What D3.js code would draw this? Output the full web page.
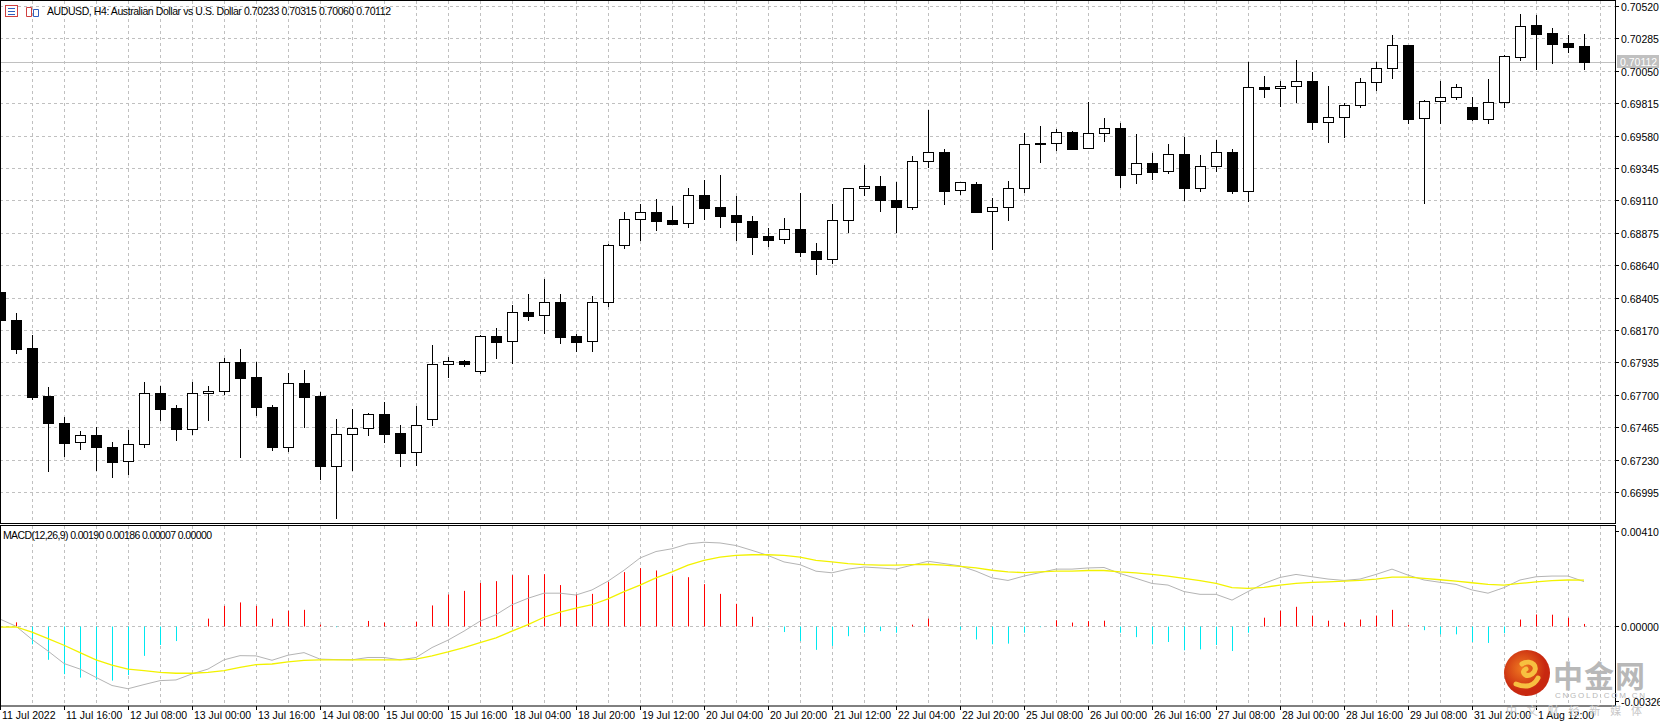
<!DOCTYPE html>
<html><head><meta charset="utf-8">
<script src="https://cdn.jsdelivr.net/npm/d3@7"></script>
<style>body{margin:0;background:#fff}svg{display:block}</style>
</head><body>
<svg id="c" width="1660" height="727"></svg>
<script>
const opens=[0.68446,0.68244,0.68040,0.67692,0.67497,0.67357,0.67408,0.67323,0.67219,0.67342,0.67712,0.67605,0.67455,0.67712,0.67724,0.67939,0.67830,0.67613,0.67325,0.67785,0.67692,0.67187,0.67415,0.67458,0.67562,0.67424,0.67284,0.67526,0.67922,0.67946,0.67872,0.68127,0.68089,0.68299,0.68277,0.68372,0.68127,0.68093,0.68370,0.68789,0.68974,0.69026,0.68969,0.68945,0.69150,0.69063,0.69005,0.68961,0.68853,0.68829,0.68901,0.68744,0.68688,0.68966,0.69198,0.69213,0.69114,0.69065,0.69394,0.69461,0.69184,0.69229,0.69032,0.69061,0.69198,0.69527,0.69524,0.69604,0.69488,0.69597,0.69633,0.69300,0.69380,0.69322,0.69447,0.69203,0.69358,0.69459,0.69181,0.69931,0.69923,0.69938,0.69976,0.69681,0.69713,0.69800,0.69969,0.70068,0.70237,0.69706,0.69829,0.69858,0.69786,0.69699,0.69822,0.70152,0.70382,0.70324,0.70254,0.70233];
const highs=[0.68533,0.68296,0.68135,0.67760,0.67542,0.67439,0.67463,0.67359,0.67446,0.67794,0.67767,0.67627,0.67794,0.67765,0.67970,0.68033,0.67939,0.67627,0.67857,0.67881,0.67721,0.67526,0.67598,0.67571,0.67649,0.67480,0.67622,0.68062,0.67977,0.67953,0.68135,0.68183,0.68352,0.68432,0.68541,0.68432,0.68142,0.68417,0.68792,0.69026,0.69084,0.69119,0.69072,0.69200,0.69258,0.69295,0.69142,0.68997,0.68908,0.68983,0.69166,0.68800,0.69084,0.69198,0.69367,0.69287,0.69246,0.69432,0.69766,0.69483,0.69244,0.69244,0.69126,0.69251,0.69597,0.69650,0.69626,0.69614,0.69824,0.69708,0.69674,0.69592,0.69456,0.69520,0.69570,0.69440,0.69548,0.69483,0.70116,0.70012,0.69976,0.70128,0.70044,0.69940,0.69819,0.69996,0.70114,0.70310,0.70237,0.69838,0.69976,0.69954,0.69862,0.69991,0.70163,0.70462,0.70455,0.70363,0.70310,0.70315];
const lows=[0.68229,0.68006,0.67671,0.67144,0.67257,0.67308,0.67151,0.67107,0.67127,0.67318,0.67518,0.67373,0.67417,0.67518,0.67705,0.67250,0.67550,0.67301,0.67289,0.67470,0.67091,0.66808,0.67151,0.67405,0.67361,0.67187,0.67192,0.67482,0.67832,0.67912,0.67857,0.67970,0.67930,0.68243,0.68147,0.68075,0.68019,0.68021,0.68347,0.68768,0.68823,0.68896,0.68940,0.68920,0.68976,0.68920,0.68823,0.68724,0.68780,0.68804,0.68707,0.68577,0.68655,0.68884,0.69150,0.69036,0.68884,0.69050,0.69355,0.69084,0.69157,0.69029,0.68758,0.68968,0.69174,0.69391,0.69476,0.69481,0.69488,0.69543,0.69210,0.69239,0.69268,0.69312,0.69113,0.69181,0.69326,0.69162,0.69108,0.69862,0.69795,0.69826,0.69630,0.69536,0.69572,0.69790,0.69911,0.70000,0.69674,0.69094,0.69674,0.69844,0.69694,0.69674,0.69790,0.70128,0.70063,0.70109,0.70189,0.70060];
const closes=[0.68243,0.68035,0.67687,0.67492,0.67354,0.67408,0.67318,0.67216,0.67344,0.67712,0.67600,0.67455,0.67712,0.67727,0.67937,0.67825,0.67608,0.67325,0.67785,0.67687,0.67187,0.67415,0.67458,0.67562,0.67419,0.67281,0.67480,0.67924,0.67946,0.67922,0.68127,0.68086,0.68299,0.68275,0.68372,0.68122,0.68086,0.68372,0.68785,0.68974,0.69024,0.68963,0.68942,0.69148,0.69058,0.69000,0.68956,0.68847,0.68826,0.68901,0.68739,0.68688,0.68966,0.69198,0.69213,0.69116,0.69065,0.69396,0.69461,0.69181,0.69244,0.69029,0.69061,0.69198,0.69517,0.69517,0.69604,0.69485,0.69597,0.69633,0.69297,0.69380,0.69319,0.69447,0.69203,0.69360,0.69459,0.69181,0.69931,0.69920,0.69940,0.69976,0.69681,0.69715,0.69800,0.69969,0.70068,0.70237,0.69703,0.69831,0.69860,0.69931,0.69699,0.69822,0.70155,0.70375,0.70319,0.70247,0.70225,0.70112];
const macdMain=[0.00028,-0.00003,-0.0006,-0.0011,-0.00164,-0.00188,-0.00224,-0.00259,-0.00273,-0.00255,-0.00238,-0.00235,-0.00209,-0.00188,-0.00148,-0.0013,-0.00131,-0.0015,-0.00128,-0.00117,-0.00145,-0.00147,-0.00148,-0.00138,-0.00138,-0.00148,-0.00138,-0.00095,-0.00063,-0.00024,0.00019,0.00047,0.0009,0.00118,0.0014,0.0014,0.00132,0.00154,0.00192,0.00239,0.00292,0.0032,0.00332,0.00353,0.0036,0.00357,0.00346,0.00325,0.00303,0.00275,0.00263,0.00235,0.00228,0.00244,0.00253,0.00249,0.00244,0.00261,0.00278,0.00268,0.00258,0.00235,0.00206,0.00195,0.00214,0.00229,0.00244,0.00244,0.00249,0.00251,0.00225,0.00204,0.00182,0.00175,0.00147,0.00135,0.00135,0.0011,0.00147,0.00182,0.00208,0.00221,0.00211,0.00201,0.00195,0.00201,0.00221,0.00244,0.00218,0.00197,0.00187,0.00178,0.00154,0.0014,0.00164,0.00197,0.00211,0.00214,0.00214,0.0019];
const macdSignal=[-0.00007,-0.00006,-0.00028,-0.00056,-0.00085,-0.00117,-0.00148,-0.00171,-0.00188,-0.00195,-0.00202,-0.00206,-0.00206,-0.00202,-0.00195,-0.00181,-0.00169,-0.00166,-0.00157,-0.0015,-0.00148,-0.00148,-0.00148,-0.00148,-0.00148,-0.00148,-0.00145,-0.00131,-0.00114,-0.00095,-0.00074,-0.00053,-0.00024,0.00004,0.00036,0.00058,0.00075,0.0009,0.00115,0.00147,0.00175,0.00206,0.00232,0.00261,0.00282,0.00296,0.00303,0.00306,0.00306,0.00303,0.00296,0.00282,0.00275,0.00268,0.00263,0.00261,0.00261,0.00263,0.00265,0.00261,0.00256,0.00249,0.00239,0.00232,0.00229,0.00232,0.00235,0.00235,0.00238,0.00238,0.00232,0.00228,0.00221,0.00214,0.00204,0.00194,0.00182,0.00164,0.00161,0.00165,0.00175,0.00182,0.00187,0.00189,0.00192,0.00195,0.00201,0.00209,0.00209,0.00204,0.00198,0.00192,0.00185,0.00178,0.00175,0.00182,0.00189,0.00194,0.00197,0.00196];
const macdHist=[0,0.00014,-0.00081,-0.00148,-0.0021,-0.00225,-0.00234,-0.00238,-0.00214,-0.00131,-0.00084,-0.00067,-0.00005,0.0003,0.00085,0.001,0.00085,0.0003,0.00064,0.00068,0.00004,-0.00007,0,0.0002,0.00013,-0.00005,0.00017,0.00087,0.00134,0.0015,0.00184,0.00192,0.00218,0.00218,0.00222,0.00175,0.00135,0.00137,0.00188,0.00231,0.00248,0.00238,0.00215,0.00209,0.00179,0.00137,0.00094,0.00038,-0.00003,-0.00028,-0.00067,-0.00105,-0.00088,-0.00046,-0.00031,-0.00024,-0.00031,0.00004,0.0003,0,-0.00017,-0.0006,-0.00081,-0.00078,-0.00031,-0.00007,0.00023,0.00013,0.00019,0.00021,-0.00031,-0.0005,-0.00081,-0.00071,-0.00107,-0.00103,-0.00084,-0.0011,-0.00031,0.00034,0.00064,0.00081,0.00043,0.00021,0.00013,0.00026,0.00043,0.00068,0.00002,-0.0002,-0.00038,-0.00038,-0.00071,-0.00075,-0.00033,0.00026,0.00048,0.00047,0.00034,0.00007];
const priceTicks=[0.70520,0.70285,0.70050,0.69815,0.69580,0.69345,0.69110,0.68875,0.68640,0.68405,0.68170,0.67935,0.67700,0.67465,0.67230,0.66995];
const macdTicks=[0.00410,0.00000,-0.00326];
const timeLabels=["11 Jul 2022","11 Jul 16:00","12 Jul 08:00","13 Jul 00:00","13 Jul 16:00","14 Jul 08:00","15 Jul 00:00","15 Jul 16:00","18 Jul 04:00","18 Jul 20:00","19 Jul 12:00","20 Jul 04:00","20 Jul 20:00","21 Jul 12:00","22 Jul 04:00","22 Jul 20:00","25 Jul 08:00","26 Jul 00:00","26 Jul 16:00","27 Jul 08:00","28 Jul 00:00","28 Jul 16:00","29 Jul 08:00","31 Jul 20:00","1 Aug 12:00"];
const lastPrice=0.70112;

const svg=d3.select("#c");
const AX=1615, mainTop=1, mainBot=523, mTop=526, mBot=706;
const x=d3.scaleLinear().domain([0,99]).range([0,1584]);
const y=d3.scaleLinear().domain([0.66995,0.70520]).range([492,6]);
const ym=d3.scaleLinear().domain([-0.00326,0.00410]).range([701,530.7]);
const font="'Liberation Sans',Arial,sans-serif";
const grid="#c0c0c0";
const snap=v=>Math.round(v)+0.5;

const defs=svg.append("defs");
defs.append("clipPath").attr("id","cm").append("rect").attr("x",0).attr("y",mainTop).attr("width",AX).attr("height",mainBot-mainTop);
defs.append("clipPath").attr("id","cd").append("rect").attr("x",0).attr("y",mTop).attr("width",AX).attr("height",mBot-mTop);

const gm=svg.append("g").attr("clip-path","url(#cm)");
const gd=svg.append("g").attr("clip-path","url(#cd)");
const vx=d3.range(1,51).map(k=>k*32);
[gm,gd].forEach((g,j)=>{
  g.selectAll("line.v").data(vx).join("line").attr("x1",d=>d+0.5).attr("x2",d=>d+0.5)
   .attr("y1",j?mTop:mainTop).attr("y2",j?mBot:mainBot).attr("stroke",grid).attr("stroke-dasharray","3,3");
});
gm.selectAll("line.h").data(priceTicks).join("line").attr("x1",0).attr("x2",AX)
  .attr("y1",d=>snap(y(d))).attr("y2",d=>snap(y(d))).attr("stroke",grid).attr("stroke-dasharray","3,3");
gd.append("line").attr("x1",0).attr("x2",AX).attr("y1",snap(ym(0))).attr("y2",snap(ym(0))).attr("stroke",grid).attr("stroke-dasharray","3,3");

gm.append("line").attr("x1",0).attr("x2",AX).attr("y1",snap(y(lastPrice))).attr("y2",snap(y(lastPrice))).attr("stroke","#c0c0c0");

const idx=d3.range(opens.length);
gm.selectAll("line.w").data(idx).join("line").attr("x1",i=>snap(x(i))).attr("x2",i=>snap(x(i)))
  .attr("y1",i=>Math.round(y(highs[i]))).attr("y2",i=>Math.round(y(lows[i]))+1).attr("stroke","#000");
gm.selectAll("rect.b").data(idx).join("rect")
  .attr("x",i=>Math.round(x(i))-5+0.5).attr("width",10)
  .attr("y",i=>Math.round(y(Math.max(opens[i],closes[i])))+0.5)
  .attr("height",i=>Math.max(1,Math.round(y(Math.min(opens[i],closes[i])))-Math.round(y(Math.max(opens[i],closes[i])))))
  .attr("fill",i=>closes[i]>=opens[i]?"#fff":"#000").attr("stroke","#000");

gd.selectAll("line.hb").data(idx.filter(i=>macdHist[i]!==0)).join("line")
  .attr("x1",i=>snap(x(i))).attr("x2",i=>snap(x(i)))
  .attr("y1",snap(ym(0))).attr("y2",i=>ym(macdHist[i]))
  .attr("stroke",i=>macdHist[i]>0?"#ff0000":"#00e8f0");
gd.append("path").datum(idx).attr("fill","none").attr("stroke","#b4b4b4").attr("stroke-width",1)
  .attr("d",d3.line().x(i=>x(i)).y(i=>ym(macdMain[i])));
gd.append("path").datum(idx).attr("fill","none").attr("stroke","#f2f200").attr("stroke-width",1.3)
  .attr("d",d3.line().x(i=>x(i)).y(i=>ym(macdSignal[i])));

svg.append("rect").attr("x",0.5).attr("y",0.5).attr("width",AX).attr("height",mainBot).attr("fill","none").attr("stroke","#000");
svg.append("rect").attr("x",0.5).attr("y",mTop-0.5).attr("width",AX).attr("height",mBot-mTop+0.5).attr("fill","none").attr("stroke","#000");

const pa=svg.append("g").attr("font-family",font).attr("font-size",10.5);
priceTicks.forEach(p=>{
  const yy=snap(y(p));
  pa.append("line").attr("x1",AX).attr("x2",AX+4).attr("y1",yy).attr("y2",yy).attr("stroke","#000");
  pa.append("text").attr("x",AX+6).attr("y",yy+4).text(p.toFixed(5));
});
const ly=Math.round(y(lastPrice));
pa.append("rect").attr("x",AX+2).attr("y",ly-7).attr("width",42).attr("height",13).attr("fill","#c0c0c0");
pa.append("text").attr("x",AX+5).attr("y",ly+4).attr("fill","#fff").text(lastPrice.toFixed(5));
macdTicks.forEach(v=>{
  const yy=snap(ym(v));
  pa.append("line").attr("x1",AX).attr("x2",AX+4).attr("y1",yy).attr("y2",yy).attr("stroke","#000");
  pa.append("text").attr("x",AX+6).attr("y",yy+4).text(v.toFixed(5));
});

const ta=svg.append("g").attr("font-family",font).attr("font-size",10.5);
timeLabels.forEach((t,k)=>{
  const xx=x(k*4);
  ta.append("line").attr("x1",snap(xx)).attr("x2",snap(xx)).attr("y1",mBot).attr("y2",mBot+4).attr("stroke","#000");
  ta.append("text").attr("x",xx+2).attr("y",719).text(t);
});

const hd=svg.append("g").attr("font-family",font).attr("font-size",10.5);
hd.append("rect").attr("x",5.5).attr("y",5.5).attr("width",12).attr("height",11).attr("fill","#fff").attr("stroke","#d04040");
[8,11,14].forEach(v=>hd.append("line").attr("x1",8).attr("x2",15).attr("y1",v+0.5).attr("y2",v+0.5).attr("stroke","#3060c0"));
hd.append("path").attr("d","M26.5,7.5h5v9h-5z").attr("fill","#fff").attr("stroke","#d04040");
hd.append("path").attr("d","M33.5,9.5h5v7h-5z").attr("fill","#fff").attr("stroke","#3060c0");
hd.append("text").attr("x",47).attr("y",15).text("AUDUSD, H4:  Australian Dollar vs U.S. Dollar  0.70233 0.70315 0.70060 0.70112").attr("textLength",344);
hd.append("text").attr("x",3).attr("y",539).text("MACD(12,26,9) 0.00190 0.00186 0.00007 0.00000").attr("textLength",209);

// watermark
const wm=svg.append("g");
const rg=defs.append("radialGradient").attr("id","lg").attr("cx","40%").attr("cy","40%");
rg.append("stop").attr("offset","0%").attr("stop-color","#f07a20");
rg.append("stop").attr("offset","100%").attr("stop-color","#c82810");
wm.append("circle").attr("cx",1527).attr("cy",673).attr("r",23).attr("fill","url(#lg)");
wm.append("path").attr("d","M1522,664 c10,-6 18,4 10,10 c-6,4 -12,-2 -6,-5 M1516,684 c10,4 18,2 22,-6")
  .attr("fill","none").attr("stroke","#f7c040").attr("stroke-width",5).attr("stroke-linecap","round");
wm.append("text").attr("x",1553).attr("y",687).attr("font-size",30).attr("font-weight","bold").attr("fill","#b8b8b8").attr("font-family","'Noto Sans CJK SC'").attr("textLength",92).text("中金网");
wm.append("text").attr("x",1555).attr("y",698).attr("font-size",8).attr("fill","#b8b8b8").attr("font-family",font).attr("textLength",90).text("CNGOLD.COM.CN");
wm.append("text").attr("x",1506).attr("y",715).attr("font-size",11).attr("fill","#c8c8c8").attr("font-family","'Noto Sans CJK SC'").attr("textLength",136).text("中文财经新媒体");
</script>
</body></html>
